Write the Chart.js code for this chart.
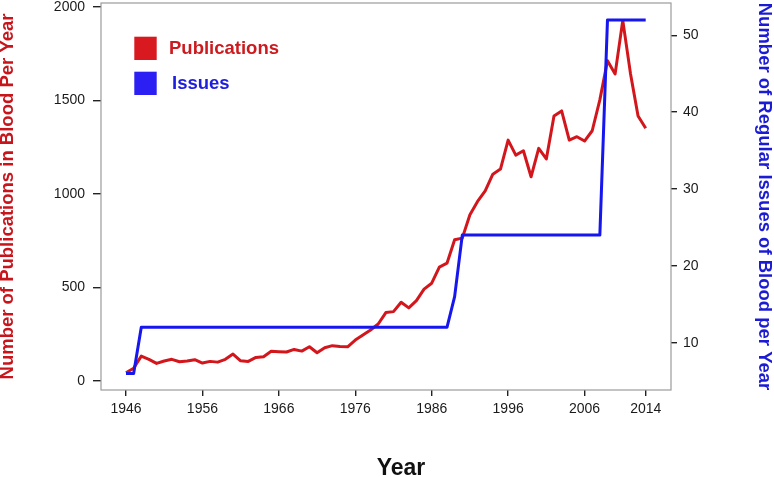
<!DOCTYPE HTML>
<html>

<head>
    <title>Blood publications and issues per year</title>
    <script src="https://cdn.jsdelivr.net/npm/chart.js@4.4.1/dist/chart.umd.min.js"></script>
    <style>
        html,
        body {
            margin: 0;
            padding: 0;
            background: #fff;
        }

        #wrap {
            width: 774px;
            height: 477px;
            position: relative;
        }
    </style>
</head>

<body>
    <div id="wrap">
        <canvas id="chart" width="774" height="477"></canvas>
    </div>
    <script>
        const years = [
            1946, 1947, 1948, 1949, 1950, 1951, 1952, 1953, 1954, 1955,
            1956, 1957, 1958, 1959, 1960, 1961, 1962, 1963, 1964, 1965,
            1966, 1967, 1968, 1969, 1970, 1971, 1972, 1973, 1974, 1975,
            1976, 1977, 1978, 1979, 1980, 1981, 1982, 1983, 1984, 1985,
            1986, 1987, 1988, 1989, 1990, 1991, 1992, 1993, 1994, 1995,
            1996, 1997, 1998, 1999, 2000, 2001, 2002, 2003, 2004, 2005,
            2006, 2007, 2008, 2009, 2010, 2011, 2012, 2013, 2014
        ];
        const publications = [
            44, 68, 133, 116, 94, 107, 116, 103, 107, 114,
            96, 105, 101, 116, 144, 108, 105, 126, 130, 159,
            157, 155, 169, 160, 183, 151, 178, 189, 185, 183,
            219, 246, 273, 305, 366, 371, 421, 391, 430, 491,
            523, 609, 630, 755, 764, 889, 960, 1017, 1106, 1133,
            1288, 1208, 1231, 1092, 1244, 1187, 1417, 1444, 1288, 1306,
            1283, 1338, 1503, 1712, 1642, 1928, 1646, 1417, 1351
        ];
        const issues = [
            6, 6, 12, 12, 12, 12, 12, 12, 12, 12,
            12, 12, 12, 12, 12, 12, 12, 12, 12, 12,
            12, 12, 12, 12, 12, 12, 12, 12, 12, 12,
            12, 12, 12, 12, 12, 12, 12, 12, 12, 12,
            12, 12, 12, 16, 24, 24, 24, 24, 24, 24,
            24, 24, 24, 24, 24, 24, 24, 24, 24, 24,
            24, 24, 24, 52, 52, 52, 52, 52, 52
        ];
        const yearTicks = [1946, 1956, 1966, 1976, 1986, 1996, 2006, 2014];
        const pubTicks = [0, 500, 1000, 1500, 2000];
        const issueTicks = [10, 20, 30, 40, 50];

        const RED = '#d2161c';
        const BLUE = '#1616ee';

        Chart.defaults.font.family = "'Liberation Sans', Arial, Helvetica, sans-serif";
        Chart.defaults.color = '#1a1a1a';

        // box round the plot, hand-made legend and the "Year" label
        const extras = {
            id: 'extras',
            beforeDatasetsDraw(chart) {
                const { ctx, chartArea: a } = chart;
                ctx.save();
                ctx.strokeStyle = '#9b9b9b';
                ctx.lineWidth = 1.2;
                ctx.strokeRect(a.left, a.top, a.right - a.left, a.bottom - a.top);
                ctx.restore();
            },
            afterDraw(chart) {
                const ctx = chart.ctx;
                ctx.save();
                const items = [
                    { text: 'Publications', box: '#d81920', color: '#cc1a1e', tx: 169 },
                    { text: 'Issues', box: '#2b1ff4', color: '#1e1ee0', tx: 172 }
                ];
                items.forEach((it, i) => {
                    const cy = 48.4 + i * 35;
                    ctx.fillStyle = it.box;
                    ctx.fillRect(134.3, cy - 11.7, 22.4, 23.3);
                    ctx.fillStyle = it.color;
                    ctx.font = "bold 18.5px 'Liberation Sans', Arial, sans-serif";
                    ctx.textBaseline = 'middle';
                    ctx.textAlign = 'left';
                    ctx.fillText(it.text, it.tx, cy + 0.5);
                });
                ctx.fillStyle = '#111';
                ctx.font = "bold 23px 'Liberation Sans', Arial, sans-serif";
                ctx.textAlign = 'center';
                ctx.textBaseline = 'alphabetic';
                ctx.fillText('Year', 401, 475);
                ctx.restore();
            }
        };

        const tickGrid = (len) => ({
            drawOnChartArea: false,
            drawTicks: true,
            tickLength: len,
            color: '#222',
            lineWidth: 1.4
        });

        new Chart(document.getElementById('chart'), {
            type: 'line',
            data: {
                datasets: [{
                    label: 'Issues',
                    data: years.map((y, i) => ({ x: y, y: issues[i] })),
                    yAxisID: 'y1',
                    borderColor: BLUE,
                    borderWidth: 3,
                    borderJoinStyle: 'round',
                    pointRadius: 0,
                    tension: 0,
                    order: 0
                }, {
                    label: 'Publications',
                    data: years.map((y, i) => ({ x: y, y: publications[i] })),
                    yAxisID: 'y',
                    borderColor: RED,
                    borderWidth: 3,
                    borderJoinStyle: 'round',
                    pointRadius: 0,
                    tension: 0,
                    order: 1
                }]
            },
            options: {
                responsive: false,
                animation: false,
                devicePixelRatio: 1,
                layout: { padding: { top: 3, left: 0, right: 0, bottom: 0 } },
                plugins: {
                    legend: { display: false },
                    tooltip: { enabled: false }
                },
                scales: {
                    x: {
                        type: 'linear',
                        min: 1942.73,
                        max: 2017.31,
                        afterBuildTicks: s => { s.ticks = yearTicks.map(v => ({ value: v })); },
                        afterFit: s => { s.height = 87; s.paddingLeft = 0; s.paddingRight = 0; },
                        grid: tickGrid(6),
                        border: { display: false },
                        ticks: {
                            padding: 5,
                            font: { size: 14 },
                            maxRotation: 0,
                            autoSkip: false,
                            callback: v => String(v)
                        }
                    },
                    y: {
                        position: 'left',
                        min: -48,
                        max: 2021,
                        afterBuildTicks: s => { s.ticks = pubTicks.map(v => ({ value: v })); },
                        afterFit: s => { s.width = 101; s.paddingTop = 0; s.paddingBottom = 0; },
                        grid: tickGrid(8),
                        border: { display: false },
                        ticks: { padding: 8, font: { size: 14 }, callback: v => String(v) },
                        title: {
                            display: true,
                            text: 'Number of Publications in Blood Per Year',
                            color: '#c8151c',
                            font: { size: 18.5, weight: 'bold', lineHeight: 0.9 },
                            padding: { top: 0, bottom: 0 }
                        }
                    },
                    y1: {
                        position: 'right',
                        min: 3.85,
                        max: 54.2,
                        afterBuildTicks: s => { s.ticks = issueTicks.map(v => ({ value: v })); },
                        afterFit: s => { s.width = 103; s.paddingTop = 0; s.paddingBottom = 0; },
                        grid: tickGrid(6),
                        border: { display: false },
                        ticks: { padding: 6, font: { size: 14 }, callback: v => String(v) },
                        title: {
                            display: true,
                            text: 'Number of Regular Issues of Blood per Year',
                            color: '#1b1bd4',
                            font: { size: 18.5, weight: 'bold', lineHeight: 0.9 },
                            padding: { top: 2, bottom: 0 }
                        }
                    }
                }
            },
            plugins: [extras]
        });
    </script>
</body>

</html>
